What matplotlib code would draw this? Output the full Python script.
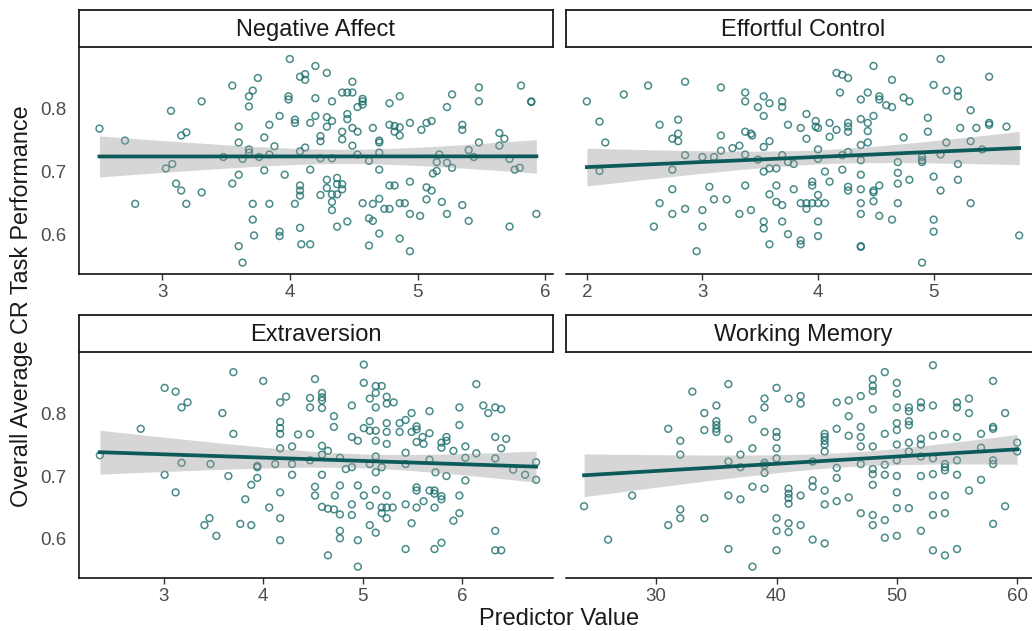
import numpy as np
import matplotlib.pyplot as plt

plt.rcParams['font.family'] = ['Liberation Sans', 'DejaVu Sans']

# Negative Affect
na_x = [2.51, 2.71, 2.79, 3.07, 3.15, 3.19, 3.03, 3.08, 3.11, 3.15,
        3.19, 3.31, 3.31, 3.48, 3.55, 3.60, 3.60, 3.60, 3.55, 3.63,
        3.68, 3.68, 3.68, 3.71, 3.68, 3.75, 3.71, 3.71, 3.72, 3.60,
        3.63, 3.76, 3.80, 3.80, 3.84, 3.84, 3.84, 3.88, 3.92, 3.96,
        3.92, 3.92, 4.00, 3.99, 3.99, 4.04, 4.04, 4.08, 4.12, 4.12,
        4.20, 4.20, 4.20, 4.16, 4.08, 4.12, 4.16, 4.08, 4.08, 4.08,
        4.04, 4.08, 4.09, 4.16,
        4.29, 4.49, 4.41, 4.45, 4.49, 4.33, 4.57, 4.57, 4.57, 4.53,
        4.78, 4.86, 4.29, 4.33, 4.29, 4.45, 4.45, 4.49, 4.53, 4.41,
        4.41, 4.24, 4.24, 4.65, 4.70, 4.70, 4.49, 4.78, 4.82, 4.82,
        4.86, 4.86, 4.94, 5.03, 5.07, 5.11, 5.23, 5.27, 5.48, 5.48,
        5.35, 5.35, 5.48, 5.81, 5.89, 5.89, 5.64, 5.68, 5.64, 4.24,
        4.33, 4.53, 4.62, 4.70, 4.70, 5.17, 5.15, 5.23, 5.27, 5.12,
        5.15, 5.40, 5.44, 5.72, 5.76, 5.80, 4.37, 4.29, 4.29, 4.37,
        4.41, 4.41, 4.33, 4.24, 4.37, 4.33, 4.33, 4.37, 4.45, 4.57,
        4.65, 4.70, 4.74, 4.78, 4.62, 4.65, 4.70, 4.62, 4.78, 4.82,
        4.94, 4.86, 4.90, 4.94, 5.02, 4.86, 4.94, 5.07, 5.11, 5.07,
        5.19, 5.23, 5.35, 5.40, 5.72, 5.93]
na_y = [0.768, 0.749, 0.649, 0.796, 0.757, 0.762, 0.705, 0.712, 0.681, 0.670,
        0.649, 0.811, 0.667, 0.723, 0.836, 0.771, 0.746, 0.695, 0.681, 0.720,
        0.735, 0.730, 0.819, 0.828, 0.803, 0.848, 0.649, 0.624, 0.599, 0.582,
        0.556, 0.723, 0.754, 0.702, 0.774, 0.727, 0.649, 0.740, 0.788, 0.695,
        0.605, 0.598, 0.878, 0.819, 0.814, 0.782, 0.777, 0.850, 0.854, 0.845,
        0.867, 0.816, 0.788, 0.777, 0.732, 0.738, 0.703, 0.678, 0.670, 0.662,
        0.649, 0.611, 0.585, 0.585,
        0.856, 0.842, 0.825, 0.825, 0.825, 0.811, 0.815, 0.811, 0.806, 0.802,
        0.808, 0.819, 0.786, 0.780, 0.771, 0.791, 0.783, 0.769, 0.763, 0.763,
        0.751, 0.756, 0.748, 0.769, 0.749, 0.746, 0.741, 0.774, 0.772, 0.763,
        0.770, 0.757, 0.777, 0.766, 0.777, 0.780, 0.802, 0.822, 0.833, 0.811,
        0.774, 0.766, 0.746, 0.836, 0.811, 0.810, 0.761, 0.752, 0.741, 0.721,
        0.721, 0.727, 0.717, 0.730, 0.703, 0.727, 0.715, 0.714, 0.706, 0.697,
        0.701, 0.734, 0.723, 0.720, 0.703, 0.706, 0.690, 0.687, 0.674, 0.680,
        0.680, 0.672, 0.664, 0.663, 0.664, 0.652, 0.639, 0.613, 0.621, 0.650,
        0.649, 0.657, 0.641, 0.641, 0.626, 0.622, 0.602, 0.583, 0.678, 0.678,
        0.684, 0.650, 0.650, 0.633, 0.630, 0.594, 0.574, 0.675, 0.670, 0.656,
        0.652, 0.633, 0.647, 0.622, 0.613, 0.633]

# Effortful Control
ec_x = [2.00, 2.11, 2.16, 2.11, 2.32, 2.53, 2.85, 3.16, 2.63, 2.79,
        2.79, 2.74, 2.79, 2.74, 2.85, 3.00, 3.10, 3.16, 3.16, 3.26,
        3.32, 3.37, 3.42, 3.43, 3.37, 3.37, 3.48, 3.53, 3.53, 3.58,
        3.69, 3.69, 3.74, 3.37, 3.48, 3.53, 3.58, 3.64, 3.53, 3.58,
        3.69, 3.74, 3.79, 2.74, 2.63, 2.74, 2.85, 2.58, 3.00, 3.00,
        3.06, 3.10, 3.21, 2.95, 3.32, 3.42, 3.37, 3.53, 3.53, 3.58,
        3.58, 3.64, 3.64, 3.69, 3.69, 3.74, 3.79,
        3.90, 3.98, 3.98, 4.00, 3.85, 3.90, 4.00, 4.00, 4.06, 4.10,
        3.95, 3.95, 3.85, 3.90, 3.95, 4.00, 4.06, 3.90, 4.00, 4.00,
        4.00, 3.85, 3.85, 4.16, 4.21, 4.26, 4.48, 4.19, 4.37, 4.43,
        4.53, 4.53, 4.59, 4.64, 4.64, 4.10, 4.10, 4.16, 4.26, 4.26,
        4.26, 4.37, 4.43, 4.43, 4.48, 4.37, 4.43, 4.21, 4.26, 4.37,
        4.21, 4.37, 4.26, 4.26, 4.37, 4.48, 4.48, 4.53, 4.48, 4.37,
        4.37, 4.53, 4.64, 4.69, 4.37, 4.37, 4.69, 4.69, 4.69, 4.79,
        4.74, 4.74, 4.79, 4.90, 4.90, 4.90, 4.90, 4.95, 4.95, 5.00,
        5.06, 5.11, 5.21, 5.21, 5.00, 5.06, 5.00, 5.00, 5.06, 5.11,
        5.21, 5.21, 5.23, 5.32, 5.37, 5.48, 5.48, 5.63, 5.48, 5.32,
        5.42, 5.32, 5.74]
ec_y = [0.811, 0.779, 0.746, 0.701, 0.822, 0.836, 0.842, 0.833, 0.774, 0.782,
        0.760, 0.752, 0.748, 0.703, 0.726, 0.723, 0.723, 0.733, 0.757, 0.737,
        0.741, 0.763, 0.760, 0.757, 0.825, 0.811, 0.802, 0.819, 0.788, 0.808,
        0.811, 0.802, 0.774, 0.727, 0.719, 0.700, 0.705, 0.705, 0.739, 0.748,
        0.726, 0.715, 0.712, 0.672, 0.650, 0.633, 0.641, 0.613, 0.639, 0.613,
        0.676, 0.656, 0.656, 0.574, 0.633, 0.639, 0.678, 0.621, 0.610, 0.585,
        0.664, 0.678, 0.652, 0.647, 0.621, 0.601, 0.672,
        0.791, 0.780, 0.771, 0.769, 0.769, 0.752, 0.735, 0.720, 0.700, 0.684,
        0.684, 0.678, 0.650, 0.650, 0.650, 0.650, 0.650, 0.641, 0.663, 0.621,
        0.598, 0.591, 0.585, 0.856, 0.853, 0.848, 0.867, 0.825, 0.814, 0.825,
        0.819, 0.814, 0.805, 0.802, 0.845, 0.777, 0.755, 0.766, 0.777, 0.771,
        0.763, 0.783, 0.777, 0.764, 0.788, 0.742, 0.746, 0.726, 0.731, 0.718,
        0.703, 0.695, 0.676, 0.670, 0.672, 0.670, 0.667, 0.678, 0.653, 0.650,
        0.633, 0.630, 0.624, 0.650, 0.582, 0.581, 0.715, 0.698, 0.681, 0.687,
        0.754, 0.817, 0.811, 0.723, 0.718, 0.715, 0.556, 0.785, 0.763, 0.837,
        0.878, 0.828, 0.828, 0.819, 0.692, 0.670, 0.624, 0.605, 0.727, 0.746,
        0.712, 0.687, 0.769, 0.797, 0.769, 0.777, 0.774, 0.771, 0.850, 0.748,
        0.735, 0.650, 0.599]

# Extraversion
ex_x = [2.36, 2.77, 3.01, 3.12, 3.24, 3.18, 3.01, 3.12, 3.18, 3.47,
        3.65, 3.59, 3.70, 3.70, 3.41, 3.46, 3.53, 3.77, 3.88, 3.82,
        3.88, 3.94, 3.94, 3.94, 4.06, 4.00, 4.12, 4.17, 4.17, 4.17,
        4.17, 4.17, 4.23, 4.35, 4.29, 4.29, 4.29, 4.17, 4.17, 4.17,
        4.47, 4.47, 4.47, 4.47, 4.52, 4.52, 4.52,
        4.59, 4.59, 4.59, 4.59, 4.71, 4.71, 4.59, 4.65, 4.59, 4.59,
        4.59, 4.65, 4.71, 4.77, 4.72, 4.77, 4.77, 4.77, 4.65, 4.77,
        4.83, 4.89, 4.89, 5.01, 5.01, 4.89, 4.95, 5.07, 5.07, 5.13,
        5.13, 5.24, 5.24, 5.24, 5.01, 5.13, 5.19, 5.13, 5.07, 5.13,
        5.24, 5.24, 5.31, 5.07, 5.13, 5.13, 5.19, 4.95, 5.01, 5.13,
        5.24, 4.89, 4.89, 5.07, 5.19, 5.19, 5.24, 5.30, 5.24, 5.07,
        5.13, 4.95, 4.95, 5.37, 5.37, 5.43, 5.49, 5.54, 5.54, 5.60,
        5.54, 5.61, 5.67, 5.67, 5.49, 5.43, 5.43, 5.67, 5.43, 5.49,
        5.54, 5.54, 5.54, 5.61, 5.67, 5.72, 5.72, 5.79, 5.79, 5.72,
        5.43, 5.72, 5.79, 5.79, 5.84, 5.84, 5.79, 5.73, 5.84, 5.91,
        5.97, 5.97, 6.03, 6.03, 6.03, 5.97, 5.97, 5.91, 6.14, 6.14,
        6.21, 6.26, 6.33, 6.39, 6.33, 6.44, 6.39, 6.33, 6.33, 6.33,
        6.39, 6.51, 6.63, 6.74, 6.74]
ex_y = [0.733, 0.775, 0.840, 0.834, 0.817, 0.809, 0.702, 0.674, 0.721, 0.719,
        0.700, 0.800, 0.865, 0.767, 0.622, 0.633, 0.605, 0.624, 0.622, 0.663,
        0.686, 0.697, 0.716, 0.714, 0.650, 0.851, 0.719, 0.786, 0.776, 0.767,
        0.744, 0.817, 0.826, 0.766, 0.747, 0.719, 0.702, 0.674, 0.633, 0.598,
        0.824, 0.809, 0.767, 0.725, 0.854, 0.683, 0.669,
        0.832, 0.825, 0.820, 0.808, 0.795, 0.778, 0.748, 0.740, 0.734, 0.702,
        0.651, 0.648, 0.647, 0.639, 0.669, 0.685, 0.613, 0.601, 0.574, 0.729,
        0.711, 0.714, 0.812, 0.877, 0.848, 0.762, 0.756, 0.787, 0.772, 0.772,
        0.756, 0.784, 0.770, 0.751, 0.776, 0.843, 0.843, 0.832, 0.823, 0.809,
        0.826, 0.815, 0.817, 0.719, 0.731, 0.706, 0.714, 0.685, 0.669, 0.678,
        0.669, 0.655, 0.638, 0.653, 0.650, 0.641, 0.650, 0.650, 0.633, 0.622,
        0.610, 0.598, 0.556, 0.784, 0.770, 0.789, 0.800, 0.779, 0.774, 0.762,
        0.754, 0.751, 0.768, 0.803, 0.770, 0.737, 0.719, 0.726, 0.655, 0.625,
        0.650, 0.682, 0.677, 0.660, 0.677, 0.677, 0.672, 0.668, 0.663, 0.650,
        0.584, 0.584, 0.594, 0.753, 0.762, 0.756, 0.745, 0.706, 0.700, 0.740,
        0.809, 0.781, 0.747, 0.729, 0.693, 0.669, 0.641, 0.629, 0.846, 0.736,
        0.812, 0.800, 0.809, 0.806, 0.762, 0.759, 0.744, 0.728, 0.613, 0.582,
        0.582, 0.710, 0.702, 0.722, 0.694]

# Working Memory
wm_x = [24, 26, 28, 31, 32, 32, 33, 32, 32, 31,
        34, 34, 34, 35, 35, 35, 35, 35, 36, 36,
        36, 36, 36, 37, 37, 37, 38, 38, 38, 38,
        39, 39, 39, 39, 39, 39, 39, 40, 40, 40,
        40, 40, 41, 41, 41, 41, 41, 40, 40, 40,
        41, 41,
        42, 42, 42, 42, 43, 43, 43, 43, 44, 44,
        44, 44, 44, 44, 44, 44, 45, 46, 47, 46,
        45, 46, 47, 47, 47, 45, 45, 45, 46, 47,
        47, 48, 48, 48, 48, 48, 48, 48, 48, 48,
        48, 49, 49, 49, 49, 49, 49, 50, 50, 50,
        50, 50, 50, 50, 50, 50, 50, 50, 51, 51,
        51, 51, 51, 51, 51, 52, 52, 52, 52, 52,
        52, 52, 53, 53, 53, 53, 53, 53, 53, 53,
        54, 54, 54, 54, 54, 54, 54, 55, 55, 55,
        55, 55, 55, 56, 56, 56, 57, 57, 57, 58,
        58, 58, 58, 58, 58, 59, 59, 60, 60]
wm_y = [0.652, 0.599, 0.669, 0.775, 0.756, 0.734, 0.834, 0.647, 0.633, 0.622,
        0.633, 0.800, 0.773, 0.812, 0.787, 0.781, 0.775, 0.770, 0.846, 0.759,
        0.723, 0.669, 0.584, 0.734, 0.714, 0.663, 0.790, 0.744, 0.683, 0.556,
        0.823, 0.809, 0.770, 0.721, 0.717, 0.705, 0.680, 0.840, 0.770, 0.762,
        0.744, 0.728, 0.823, 0.680, 0.672, 0.665, 0.656, 0.633, 0.613, 0.582,
        0.625, 0.611,
        0.827, 0.815, 0.669, 0.622, 0.723, 0.693, 0.683, 0.599, 0.767, 0.762,
        0.756, 0.750, 0.739, 0.677, 0.655, 0.593, 0.817, 0.820, 0.827, 0.795,
        0.775, 0.764, 0.778, 0.762, 0.747, 0.713, 0.697, 0.660, 0.666, 0.719,
        0.641, 0.854, 0.843, 0.835, 0.806, 0.747, 0.711, 0.703, 0.686, 0.638,
        0.622, 0.865, 0.767, 0.718, 0.702, 0.630, 0.602, 0.848, 0.831, 0.809,
        0.784, 0.773, 0.750, 0.725, 0.700, 0.674, 0.649, 0.605, 0.809, 0.803,
        0.787, 0.781, 0.753, 0.739, 0.649, 0.817, 0.809, 0.759, 0.750, 0.731,
        0.700, 0.613, 0.876, 0.812, 0.764, 0.728, 0.703, 0.669, 0.638, 0.582,
        0.767, 0.719, 0.714, 0.709, 0.669, 0.641, 0.574, 0.817, 0.809, 0.762,
        0.725, 0.702, 0.584, 0.823, 0.800, 0.677, 0.767, 0.745, 0.694, 0.851,
        0.778, 0.775, 0.725, 0.719, 0.624, 0.800, 0.652, 0.753, 0.739]

titles = ['Negative Affect', 'Effortful Control', 'Extraversion', 'Working Memory']
xticks = [[3, 4, 5, 6], [2, 3, 4, 5], [3, 4, 5, 6], [30, 40, 50, 60]]
xlims = [(2.35, 6.06), (1.82, 5.92), (2.15, 6.91), (22.5, 61.9)]
yticks = [0.6, 0.7, 0.8]
ylim = (0.538, 0.897)

W, H = 1032, 631
fig = plt.figure(figsize=(W / 100, H / 100), dpi=100)


def rect(l, t, r, b):
    return [l / W, 1 - b / H, (r - l) / W, (b - t) / H]


# panel boxes in pixels: left, top, right, bottom
boxes = [(79, 47, 553, 274), (566, 47, 1040, 274),
         (79, 352, 553, 578), (566, 352, 1040, 578)]
strip_h = 37

pt_col = '#1b6e6c'
line_col = '#0c5b5a'
data = [(na_x, na_y), (ec_x, ec_y), (ex_x, ex_y), (wm_x, wm_y)]

for i, ((x, y), (l, t, r, b)) in enumerate(zip(data, boxes)):
    x = np.array(x)
    y = np.array(y)
    ax = fig.add_axes(rect(l, t, r, b))
    ax.scatter(x, y, s=24, facecolors='none', edgecolors=pt_col,
               linewidths=1.1, alpha=0.8, zorder=2)

    # lm fit with 95% confidence band
    n = len(x)
    slope, icpt = np.polyfit(x, y, 1)
    resid = y - (icpt + slope * x)
    s = np.sqrt(np.sum(resid ** 2) / (n - 2))
    xs = np.linspace(x.min(), x.max(), 80)
    se = s * np.sqrt(1 / n + (xs - x.mean()) ** 2 / np.sum((x - x.mean()) ** 2))
    fit = icpt + slope * xs
    ax.fill_between(xs, fit - 1.97 * se, fit + 1.97 * se, color='#999999',
                    alpha=0.4, linewidth=0, zorder=3)
    ax.plot(xs, fit, color=line_col, lw=2.7, zorder=4)

    ax.set_xlim(*xlims[i])
    ax.set_ylim(*ylim)
    ax.set_xticks(xticks[i])
    ax.set_yticks(yticks)
    for side in ['top', 'right']:
        ax.spines[side].set_visible(False)
    ax.spines['bottom'].set_linewidth(1.1)
    ax.spines['left'].set_linewidth(1.1)
    ax.tick_params(axis='x', length=4, width=1.0, colors='#333333',
                   labelcolor='#4d4d4d', labelsize=13.5, pad=3)
    if i % 2 == 0:
        ax.tick_params(axis='y', length=0, labelcolor='#4d4d4d',
                       labelsize=13.5, pad=9)
    else:
        ax.spines['left'].set_visible(False)
        ax.tick_params(axis='y', length=0, labelleft=False)

    # facet strip
    sax = fig.add_axes(rect(l, t - strip_h, r, t))
    sax.set_xticks([])
    sax.set_yticks([])
    for sp in sax.spines.values():
        sp.set_linewidth(1.3)
        sp.set_color('#1a1a1a')
    sax.text(0.5, 0.47, titles[i], ha='center', va='center', fontsize=17,
             color='#1a1a1a', transform=sax.transAxes)

fig.text(559 / W, 1 - 619 / H, 'Predictor Value', ha='center',
         va='center', fontsize=17, color='#1a1a1a')
fig.text(22 / W, 1 - 306 / H, 'Overall Average CR Task Performance',
         ha='center', va='center', rotation=90, fontsize=16.8, color='#1a1a1a')

fig.savefig('out.png', dpi=100)
